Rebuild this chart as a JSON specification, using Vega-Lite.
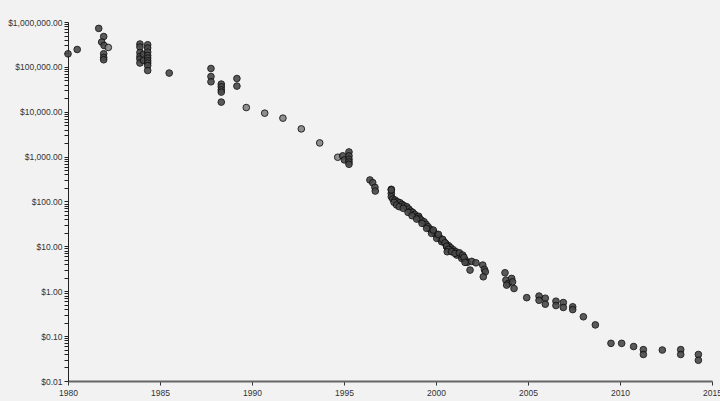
{
  "$schema": "https://vega.github.io/schema/vega-lite/v6.json",
  "autosize": "none",
  "width": 644,
  "height": 359,
  "padding": {"left": 68, "top": 22, "right": 8, "bottom": 20},
  "background": "#f2f2f2",
  "config": {"view": {"stroke": null}, "font": "Liberation Sans"},
  "data": {"values": [
    {"year": 1980.0, "cost": 195000, "kind": "a"},
    {"year": 1980.5, "cost": 244000, "kind": "a"},
    {"year": 1981.67, "cost": 720000, "kind": "a"},
    {"year": 1981.94, "cost": 475000, "kind": "a"},
    {"year": 1981.83, "cost": 357000, "kind": "a"},
    {"year": 1981.96, "cost": 300000, "kind": "a"},
    {"year": 1982.19, "cost": 271000, "kind": "b"},
    {"year": 1981.94, "cost": 196000, "kind": "a"},
    {"year": 1981.94, "cost": 162000, "kind": "a"},
    {"year": 1981.94, "cost": 144000, "kind": "a"},
    {"year": 1983.91, "cost": 323000, "kind": "a"},
    {"year": 1983.91, "cost": 277000, "kind": "a"},
    {"year": 1983.91, "cost": 209000, "kind": "a"},
    {"year": 1983.91, "cost": 171000, "kind": "a"},
    {"year": 1983.91, "cost": 149000, "kind": "a"},
    {"year": 1983.91, "cost": 122000, "kind": "a"},
    {"year": 1984.1, "cost": 190000, "kind": "a"},
    {"year": 1984.1, "cost": 140000, "kind": "a"},
    {"year": 1984.33, "cost": 311000, "kind": "a"},
    {"year": 1984.33, "cost": 263000, "kind": "a"},
    {"year": 1984.33, "cost": 214000, "kind": "a"},
    {"year": 1984.33, "cost": 180000, "kind": "a"},
    {"year": 1984.33, "cost": 157000, "kind": "a"},
    {"year": 1984.33, "cost": 137000, "kind": "a"},
    {"year": 1984.33, "cost": 122000, "kind": "a"},
    {"year": 1984.33, "cost": 107000, "kind": "a"},
    {"year": 1984.33, "cost": 83000, "kind": "a"},
    {"year": 1985.5, "cost": 72800, "kind": "a"},
    {"year": 1987.77, "cost": 92000, "kind": "a"},
    {"year": 1987.77, "cost": 61000, "kind": "a"},
    {"year": 1987.77, "cost": 46500, "kind": "a"},
    {"year": 1988.33, "cost": 41300, "kind": "a"},
    {"year": 1988.33, "cost": 36000, "kind": "a"},
    {"year": 1988.33, "cost": 30800, "kind": "a"},
    {"year": 1988.33, "cost": 27400, "kind": "a"},
    {"year": 1988.33, "cost": 16400, "kind": "a"},
    {"year": 1989.18, "cost": 55000, "kind": "a"},
    {"year": 1989.18, "cost": 37300, "kind": "a"},
    {"year": 1989.69, "cost": 12400, "kind": "b"},
    {"year": 1990.69, "cost": 9300, "kind": "b"},
    {"year": 1991.68, "cost": 7200, "kind": "b"},
    {"year": 1992.68, "cost": 4150, "kind": "b"},
    {"year": 1993.68, "cost": 2020, "kind": "b"},
    {"year": 1994.66, "cost": 970, "kind": "b"},
    {"year": 1994.93, "cost": 1040, "kind": "a"},
    {"year": 1995.02, "cost": 845, "kind": "a"},
    {"year": 1995.27, "cost": 1270, "kind": "a"},
    {"year": 1995.27, "cost": 1040, "kind": "a"},
    {"year": 1995.27, "cost": 875, "kind": "a"},
    {"year": 1995.27, "cost": 762, "kind": "a"},
    {"year": 1995.27, "cost": 676, "kind": "a"},
    {"year": 1996.41, "cost": 302, "kind": "a"},
    {"year": 1996.56, "cost": 263, "kind": "a"},
    {"year": 1996.68, "cost": 207, "kind": "a"},
    {"year": 1996.7, "cost": 171, "kind": "a"},
    {"year": 1997.57, "cost": 187, "kind": "a"},
    {"year": 1997.57, "cost": 152, "kind": "a"},
    {"year": 1997.57, "cost": 181, "kind": "a"},
    {"year": 1997.57, "cost": 128, "kind": "a"},
    {"year": 1997.65, "cost": 114, "kind": "a"},
    {"year": 1997.77, "cost": 108, "kind": "a"},
    {"year": 1997.9, "cost": 99, "kind": "a"},
    {"year": 1998.04, "cost": 94, "kind": "a"},
    {"year": 1998.15, "cost": 86.5, "kind": "a"},
    {"year": 1998.26, "cost": 80.5, "kind": "a"},
    {"year": 1998.41, "cost": 76.5, "kind": "a"},
    {"year": 1998.52, "cost": 68, "kind": "a"},
    {"year": 1998.62, "cost": 61.4, "kind": "a"},
    {"year": 1998.73, "cost": 57.4, "kind": "a"},
    {"year": 1998.84, "cost": 51.8, "kind": "a"},
    {"year": 1998.98, "cost": 45.8, "kind": "a"},
    {"year": 1999.06, "cost": 46.8, "kind": "a"},
    {"year": 1999.09, "cost": 42.2, "kind": "a"},
    {"year": 1999.2, "cost": 38.6, "kind": "a"},
    {"year": 1999.35, "cost": 35.4, "kind": "a"},
    {"year": 1999.46, "cost": 31, "kind": "a"},
    {"year": 1999.57, "cost": 27.4, "kind": "a"},
    {"year": 1999.67, "cost": 24.3, "kind": "a"},
    {"year": 1999.78, "cost": 22, "kind": "a"},
    {"year": 1999.89, "cost": 20.5, "kind": "a"},
    {"year": 2000.0, "cost": 18.5, "kind": "a"},
    {"year": 2000.11, "cost": 17.3, "kind": "a"},
    {"year": 2000.22, "cost": 15.1, "kind": "a"},
    {"year": 2000.33, "cost": 13.8, "kind": "a"},
    {"year": 2000.43, "cost": 12.7, "kind": "a"},
    {"year": 2000.54, "cost": 11.4, "kind": "a"},
    {"year": 2000.69, "cost": 10.3, "kind": "a"},
    {"year": 2000.8, "cost": 9.3, "kind": "a"},
    {"year": 2000.94, "cost": 8.4, "kind": "a"},
    {"year": 2001.09, "cost": 7.57, "kind": "a"},
    {"year": 2001.23, "cost": 6.84, "kind": "a"},
    {"year": 2001.38, "cost": 6.17, "kind": "a"},
    {"year": 2001.48, "cost": 5.57, "kind": "a"},
    {"year": 2001.59, "cost": 4.95, "kind": "a"},
    {"year": 2001.7, "cost": 4.4, "kind": "a"},
    {"year": 1997.72, "cost": 96, "kind": "a"},
    {"year": 1997.86, "cost": 83.6, "kind": "a"},
    {"year": 1998.0, "cost": 76.6, "kind": "a"},
    {"year": 1998.22, "cost": 70.5, "kind": "a"},
    {"year": 1998.48, "cost": 57.4, "kind": "a"},
    {"year": 1998.7, "cost": 48.2, "kind": "a"},
    {"year": 1998.95, "cost": 40.6, "kind": "a"},
    {"year": 1999.24, "cost": 32.6, "kind": "a"},
    {"year": 1999.49, "cost": 25.2, "kind": "a"},
    {"year": 1999.76, "cost": 19.5, "kind": "a"},
    {"year": 2000.04, "cost": 15.1, "kind": "a"},
    {"year": 2000.31, "cost": 12.7, "kind": "a"},
    {"year": 2000.58, "cost": 9.8, "kind": "a"},
    {"year": 2000.85, "cost": 7.85, "kind": "a"},
    {"year": 2001.13, "cost": 6.4, "kind": "a"},
    {"year": 2001.4, "cost": 5.4, "kind": "a"},
    {"year": 1999.85, "cost": 23.1, "kind": "a"},
    {"year": 2000.13, "cost": 18.5, "kind": "a"},
    {"year": 2000.36, "cost": 14.3, "kind": "a"},
    {"year": 2000.49, "cost": 12, "kind": "a"},
    {"year": 2000.58, "cost": 10.1, "kind": "a"},
    {"year": 2000.67, "cost": 8.6, "kind": "a"},
    {"year": 2000.61, "cost": 7.6, "kind": "a"},
    {"year": 2000.85, "cost": 7.6, "kind": "a"},
    {"year": 2001.03, "cost": 6.98, "kind": "a"},
    {"year": 2001.27, "cost": 7.2, "kind": "a"},
    {"year": 2001.45, "cost": 6.4, "kind": "a"},
    {"year": 2001.52, "cost": 5.7, "kind": "a"},
    {"year": 2001.58, "cost": 4.4, "kind": "a"},
    {"year": 2001.85, "cost": 2.96, "kind": "a"},
    {"year": 2001.94, "cost": 4.63, "kind": "a"},
    {"year": 2002.17, "cost": 4.3, "kind": "a"},
    {"year": 2002.54, "cost": 3.83, "kind": "a"},
    {"year": 2002.63, "cost": 3.07, "kind": "a"},
    {"year": 2002.68, "cost": 2.71, "kind": "a"},
    {"year": 2002.57, "cost": 2.1, "kind": "a"},
    {"year": 2003.75, "cost": 2.58, "kind": "a"},
    {"year": 2003.8, "cost": 1.77, "kind": "a"},
    {"year": 2003.93, "cost": 1.49, "kind": "a"},
    {"year": 2003.84, "cost": 1.37, "kind": "a"},
    {"year": 2004.11, "cost": 1.93, "kind": "a"},
    {"year": 2004.16, "cost": 1.62, "kind": "a"},
    {"year": 2004.24, "cost": 1.15, "kind": "a"},
    {"year": 2004.93, "cost": 0.72, "kind": "a"},
    {"year": 2005.6, "cost": 0.78, "kind": "a"},
    {"year": 2005.6, "cost": 0.63, "kind": "a"},
    {"year": 2005.94, "cost": 0.7, "kind": "a"},
    {"year": 2005.94, "cost": 0.515, "kind": "a"},
    {"year": 2006.52, "cost": 0.6, "kind": "a"},
    {"year": 2006.52, "cost": 0.48, "kind": "a"},
    {"year": 2006.92, "cost": 0.56, "kind": "a"},
    {"year": 2006.92, "cost": 0.435, "kind": "a"},
    {"year": 2007.43, "cost": 0.45, "kind": "a"},
    {"year": 2007.43, "cost": 0.39, "kind": "a"},
    {"year": 2008.01, "cost": 0.27, "kind": "a"},
    {"year": 2008.66, "cost": 0.178, "kind": "a"},
    {"year": 2009.51, "cost": 0.069, "kind": "a"},
    {"year": 2010.09, "cost": 0.069, "kind": "a"},
    {"year": 2010.74, "cost": 0.0586, "kind": "a"},
    {"year": 2011.27, "cost": 0.05, "kind": "a"},
    {"year": 2011.27, "cost": 0.039, "kind": "a"},
    {"year": 2012.3, "cost": 0.049, "kind": "a"},
    {"year": 2013.3, "cost": 0.05, "kind": "a"},
    {"year": 2013.3, "cost": 0.039, "kind": "a"},
    {"year": 2014.26, "cost": 0.039, "kind": "a"},
    {"year": 2014.26, "cost": 0.029, "kind": "a"}
  ]},
  "mark": {"type": "circle", "size": 44, "stroke": "#111111", "strokeWidth": 1, "opacity": 0.9},
  "encoding": {
    "x": {
      "field": "year", "type": "quantitative",
      "scale": {"domain": [1980, 2015], "nice": false, "zero": false},
      "axis": {
        "title": null, "grid": false, "format": "d",
        "values": [1980, 1985, 1990, 1995, 2000, 2005, 2010, 2015],
        "domainColor": "#666666", "domainWidth": 2,
        "tickColor": "#333333", "tickSize": 4,
        "labelFontSize": 8.5, "labelColor": "#333333", "labelPadding": 3, "labelFlush": false
      }
    },
    "y": {
      "field": "cost", "type": "quantitative",
      "scale": {"type": "log", "domain": [0.01, 1000000], "nice": false},
      "axis": {
        "title": null, "grid": false, "format": "$,.2f",
        "values": [0.01,0.02,0.03,0.04,0.05,0.06,0.07,0.08,0.09,
                   0.1,0.2,0.3,0.4,0.5,0.6,0.7,0.8,0.9,
                   1,2,3,4,5,6,7,8,9,
                   10,20,30,40,50,60,70,80,90,
                   100,200,300,400,500,600,700,800,900,
                   1000,2000,3000,4000,5000,6000,7000,8000,9000,
                   10000,20000,30000,40000,50000,60000,70000,80000,90000,
                   100000,200000,300000,400000,500000,600000,700000,800000,900000,
                   1000000],
        "labelExpr": "abs(log(datum.value)/LN10 - round(log(datum.value)/LN10)) < 0.000001 ? datum.label : ''",
        "domainColor": "#222222", "domainWidth": 1,
        "tickColor": "#222222", "tickSize": 4,
        "labelFontSize": 8.5, "labelColor": "#333333", "labelPadding": 2, "labelOverlap": false
      }
    },
    "color": {
      "field": "kind", "type": "nominal",
      "scale": {"domain": ["a", "b"], "range": ["#4a4a4a", "#858585"]},
      "legend": null
    }
  }
}
